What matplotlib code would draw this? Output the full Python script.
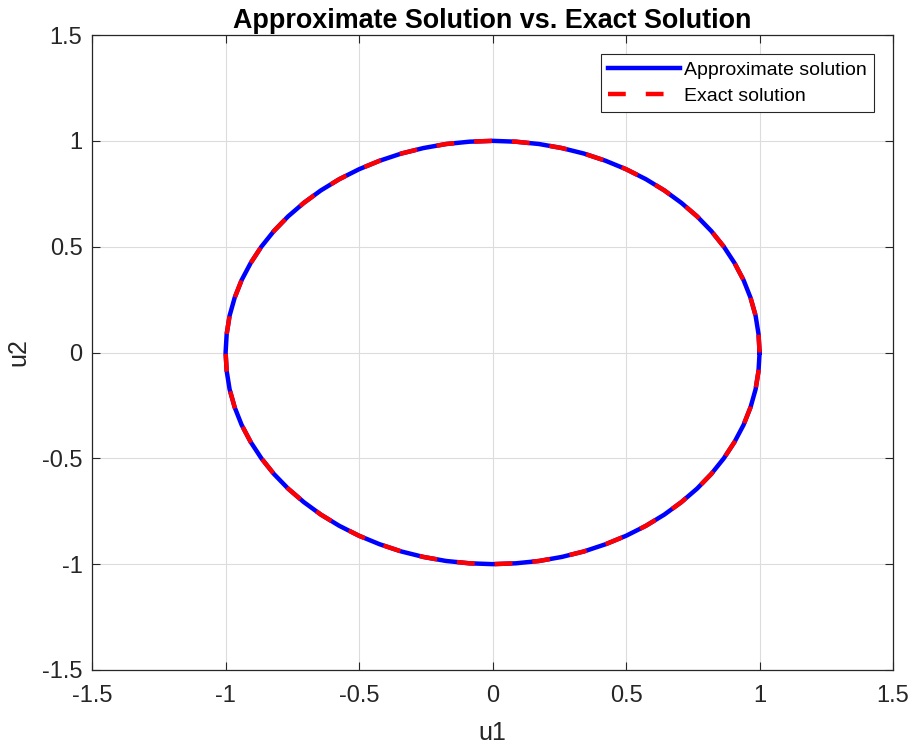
import matplotlib
matplotlib.use("Agg")
import matplotlib.pyplot as plt

plt.rcParams['font.family'] = ['Liberation Sans', 'DejaVu Sans']

# Points (every 5 degrees around the unit circle)
u1_approx = [1.000, 0.996, 0.985, 0.966, 0.940, 0.906, 0.866, 0.819, 0.766, 0.707,
             0.643, 0.574, 0.500, 0.423, 0.342, 0.259, 0.174, 0.087, 0.000,
             -0.087, -0.174, -0.259, -0.342, -0.423, -0.500, -0.574, -0.643, -0.707,
             -0.766, -0.819, -0.866, -0.906, -0.940, -0.966, -0.985, -0.996, -1.000,
             -0.996, -0.985, -0.966, -0.940, -0.906, -0.866, -0.819, -0.766, -0.707,
             -0.643, -0.574, -0.500, -0.423, -0.342, -0.259, -0.174, -0.087, 0.000,
             0.087, 0.174, 0.259, 0.342, 0.423, 0.500, 0.574, 0.643, 0.707,
             0.766, 0.819, 0.866, 0.906, 0.940, 0.966, 0.985, 0.996, 1.000]
u2_approx = [0.000, 0.087, 0.174, 0.259, 0.342, 0.423, 0.500, 0.574, 0.643, 0.707,
             0.766, 0.819, 0.866, 0.906, 0.940, 0.966, 0.985, 0.996, 1.000,
             0.996, 0.985, 0.966, 0.940, 0.906, 0.866, 0.819, 0.766, 0.707,
             0.643, 0.574, 0.500, 0.423, 0.342, 0.259, 0.174, 0.087, 0.000,
             -0.087, -0.174, -0.259, -0.342, -0.423, -0.500, -0.574, -0.643, -0.707,
             -0.766, -0.819, -0.866, -0.906, -0.940, -0.966, -0.985, -0.996, -1.000,
             -0.996, -0.985, -0.966, -0.940, -0.906, -0.866, -0.819, -0.766, -0.707,
             -0.643, -0.574, -0.500, -0.423, -0.342, -0.259, -0.174, -0.087, 0.000]
u1_exact = list(u1_approx)
u2_exact = list(u2_approx)

ticks = [-1.5, -1, -0.5, 0, 0.5, 1, 1.5]
tick_labels = ['-1.5', '-1', '-0.5', '0', '0.5', '1', '1.5']

fig = plt.figure(figsize=(9.21, 7.5), dpi=100)
ax = fig.add_axes([0.1, 0.1067, 0.8697, 0.8466])

ax.plot(u1_approx, u2_approx, color='#0000ff', lw=3.2, label='Approximate solution',
        solid_joinstyle='round', zorder=3)
ax.plot(u1_exact, u2_exact, color='#ff0000', lw=3.2, ls=(0, (4, 4.5)),
        label='Exact solution', zorder=4)

ax.set_xlim(-1.5, 1.5)
ax.set_ylim(-1.5, 1.5)
ax.set_xticks(ticks)
ax.set_xticklabels(tick_labels)
ax.set_yticks(ticks)
ax.set_yticklabels(tick_labels)
ax.tick_params(direction='in', labelsize=17, length=6, width=0.8, colors='#262626',
               top=True, right=True, pad=7)
ax.tick_params(axis='x', pad=11)
ax.grid(True, color='#dcdcdc', lw=0.8)
ax.set_axisbelow(True)
for s in ax.spines.values():
    s.set_color('#262626')
    s.set_linewidth(0.9)

ax.set_xlabel('u1', fontsize=18, color='#262626', labelpad=10)
ax.set_ylabel('u2', fontsize=18, color='#262626', labelpad=8)
ax.set_title('Approximate Solution vs. Exact Solution', fontsize=19.4, fontweight='bold', pad=5)

leg = ax.legend(loc='upper right', fontsize=14, frameon=True, fancybox=False,
                edgecolor='#262626', framealpha=1, handlelength=3.7,
                borderaxespad=1.0, labelspacing=0.45, handletextpad=0.2,
                borderpad=0.35)
leg.get_frame().set_linewidth(0.8)

fig.savefig('out.png', dpi=100)
